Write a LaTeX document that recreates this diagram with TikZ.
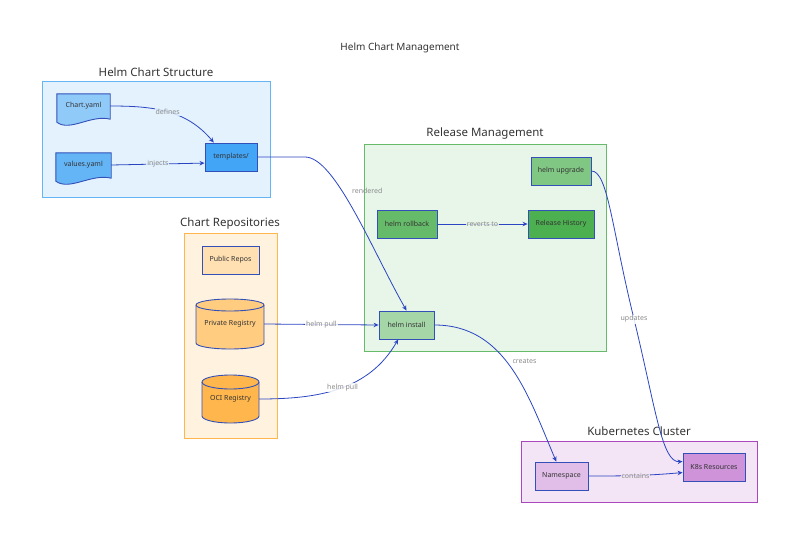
\documentclass[tikz,border=0pt]{standalone}
\usepackage{fontspec}
\setmainfont{Noto Sans}
\usetikzlibrary{arrows.meta,calc}
\definecolor{nodeborder}{HTML}{3350B8}
\definecolor{edgec}{HTML}{2B45C2}
\definecolor{txt}{HTML}{333333}
\definecolor{lblc}{HTML}{8A8A8A}
\definecolor{helmbg}{HTML}{E3F2FD}\definecolor{helmbd}{HTML}{64B5F6}
\definecolor{docA}{HTML}{90CAF9}\definecolor{docB}{HTML}{64B5F6}\definecolor{tplc}{HTML}{42A5F5}
\definecolor{repbg}{HTML}{FFF3E0}\definecolor{repbd}{HTML}{FFB74D}
\definecolor{pubc}{HTML}{FFE0B2}\definecolor{privc}{HTML}{FFCC80}\definecolor{ocic}{HTML}{FFB74D}
\definecolor{relbg}{HTML}{E8F5E9}\definecolor{relbd}{HTML}{66BB6A}
\definecolor{upgc}{HTML}{81C784}\definecolor{rbc}{HTML}{66BB6A}\definecolor{histc}{HTML}{4CAF50}\definecolor{instc}{HTML}{A5D6A7}
\definecolor{kbg}{HTML}{F3E5F5}\definecolor{kbd}{HTML}{AB47BC}
\definecolor{nsc}{HTML}{E1BEE7}\definecolor{k8c}{HTML}{CE93D8}
\pgfdeclarelayer{back}\pgfdeclarelayer{mid}\pgfsetlayers{back,mid,main}
\newcommand\docshape[2]{\begin{pgfonlayer}{mid}\filldraw[fill=#2, draw=nodeborder, line width=0.9pt]
 (#1.north west) -- (#1.north east) -- ([yshift=-1pt]#1.south east)
 .. controls ([xshift=8pt,yshift=4pt]#1.south) and ([xshift=-14pt,yshift=-14pt]#1.south) .. ([yshift=-4pt]#1.south west) -- cycle;\end{pgfonlayer}}
% cx, cy, rx, h, ry, fill
\newcommand\cylshape[6]{\begin{pgfonlayer}{mid}
 \filldraw[fill=#6, draw=nodeborder, line width=0.9pt]
 ({#1-#3},{#2+#4/2-#5}) -- ({#1-#3},{#2-#4/2+#5}) arc[start angle=180,end angle=360,x radius=#3pt,y radius=#5pt]
 -- ({#1+#3},{#2+#4/2-#5}) arc[start angle=0,end angle=180,x radius=#3pt,y radius=#5pt] -- cycle;
 \draw[nodeborder, line width=0.9pt] ({#1-#3},{#2+#4/2-#5}) arc[start angle=180,end angle=360,x radius=#3pt,y radius=#5pt];
 \end{pgfonlayer}}
\begin{document}
\begin{tikzpicture}[x=1pt,y=1pt,
  cluster/.style={line width=0.9pt},
  ctitle/.style={font=\fontsize{11.5}{13}\selectfont, text=txt},
  box/.style={draw=nodeborder, line width=0.9pt, font=\fontsize{7}{8.5}\selectfont, text=txt, minimum height=28pt, inner sep=1pt},
  plain/.style={font=\fontsize{7}{8.5}\selectfont, text=txt, inner sep=1pt},
  edge/.style={draw=edgec, line width=0.8pt, -{Stealth[length=5pt,width=4.5pt]}},
  lbl/.style={font=\fontsize{7}{8.5}\selectfont, text=lblc, fill=white, fill opacity=0.85, text opacity=1, inner sep=1pt}]
\useasboundingbox (0,0) rectangle (800,-546);
\node[font=\fontsize{10}{12}\selectfont, text=txt] (title) at (400,-48) {Helm Chart Management};
% clusters
\begin{pgfonlayer}{back}
\draw[cluster, fill=helmbg, draw=helmbd] (42,-81) rectangle (270,-197);
\draw[cluster, fill=repbg, draw=repbd] (184,-233) rectangle (277,-438);
\draw[cluster, fill=relbg, draw=relbd] (364,-144) rectangle (606,-351);
\draw[cluster, fill=kbg, draw=kbd] (521,-441) rectangle (757,-502);
\end{pgfonlayer}
\node[ctitle] (t1) at (156,-72) {Helm Chart Structure};
\node[ctitle] (t2) at (230,-224) {Chart Repositories};
\node[ctitle] (t3) at (485,-134) {Release Management};
\node[ctitle] (t4) at (639,-431) {Kubernetes Cluster};
% helm chart structure
\node[plain, minimum width=53pt, minimum height=24pt] (chart) at (83.5,-106) {Chart.yaml};
\docshape{chart}{docA}
\node[plain, minimum width=55pt, minimum height=24pt] (values) at (83.5,-165) {values.yaml};
\docshape{values}{docB}
\node[box, fill=tplc, minimum width=52pt] (tpl) at (231,-157) {templates/};
% repositories
\node[box, fill=pubc, minimum width=57pt] (pub) at (230.5,-260) {Public Repos};
\cylshape{230}{-324}{34}{50}{6}{privc}
\node[plain, minimum width=68pt, minimum height=50pt] (priv) at (230,-324) {Private Registry};
\cylshape{230.5}{-399}{28.5}{48}{7}{ocic}
\node[plain, minimum width=57pt, minimum height=48pt] (oci) at (230.5,-399) {OCI Registry};
% release
\node[box, fill=upgc, minimum width=60pt] (upg) at (561,-171) {helm upgrade};
\node[box, fill=rbc, minimum width=60pt] (rb) at (407,-224) {helm rollback};
\node[box, fill=histc, minimum width=66pt] (hist) at (561,-224) {Release History};
\node[box, fill=instc, minimum width=55pt] (inst) at (406.5,-325) {helm install};
% k8s
\node[box, fill=nsc, minimum width=53pt] (ns) at (561.5,-476) {Namespace};
\node[box, fill=k8c, minimum width=62pt] (k8s) at (714,-467) {K8s Resources};
% edges
\draw[edge] (chart.east) to[out=0,in=130] node[lbl, fill=helmbg, pos=0.5]{defines} (tpl.140);
\draw[edge] (values.east) -- node[lbl, fill=helmbg]{injects} (tpl.193);
\draw[edge] (tpl.east) -- (305,-157) .. controls (335,-157) and (372,-250) .. (inst.north)
  node[lbl, pos=0.38, anchor=west, xshift=9pt, fill=none]{rendered};
\draw[edge] (priv.east) -- node[lbl]{helm pull} (inst.west);
\draw[edge] (oci.east) to[out=0,in=240] node[lbl, pos=0.52]{helm pull} (inst.240);
\draw[edge] (rb.east) -- node[lbl, fill=relbg]{reverts to} (hist.west);
\draw[edge] (inst.east) to[out=0,in=113] node[lbl, pos=0.45, anchor=west, xshift=5pt, fill=none]{creates} (ns.110);
\draw[edge] (upg.east) .. controls (608,-171) and (612,-230) .. (634,-319) node[lbl]{updates}
  .. controls (656,-410) and (662,-463) .. (k8s.170);
\draw[edge] (ns.east) to[out=0,in=185] node[lbl, fill=kbg]{contains} (k8s.190);
\end{tikzpicture}
\end{document}
